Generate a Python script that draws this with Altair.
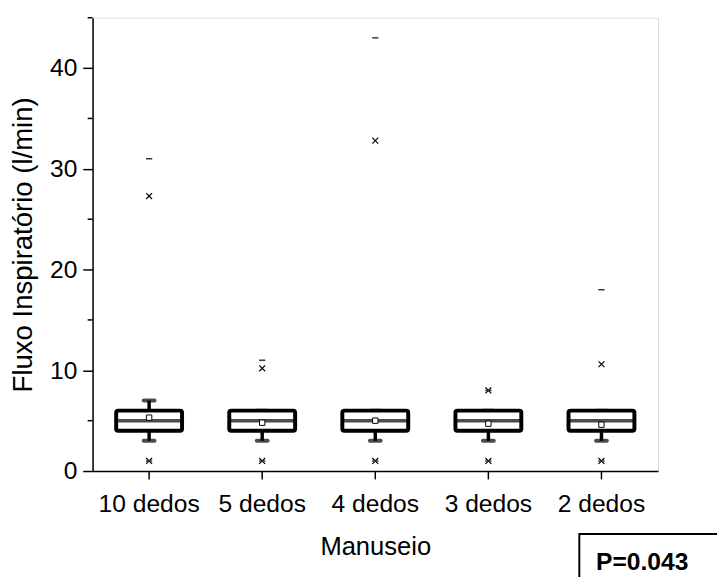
import altair as alt
import pandas as pd

categories = ["10 dedos", "5 dedos", "4 dedos", "3 dedos", "2 dedos"]
q1 = [4, 4, 4, 4, 4]
median = [5, 5, 5, 5, 5]
q3 = [6, 6, 6, 6, 6]
whisker_lo = [3, 3, 3, 3, 3]
whisker_hi = [7, 6, 6, 6, 6]
mean = [5.3, 4.8, 5.0, 4.7, 4.6]
p_low = [1, 1, 1, 1, 1]
p_high = [27.3, 10.2, 32.8, 8.0, 10.6]
minimum = [1, 1, 1, 1, 1]
maximum = [31, 11, 43, 8, 18]
major_ticks = [0, 10, 20, 30, 40]
minor_ticks = [5, 15, 25, 35, 45]
p_label = ["P=0.043"]

df = pd.DataFrame({
    "cat": categories, "q1": q1, "median": median, "q3": q3,
    "lo": whisker_lo, "hi": whisker_hi, "mean": mean,
})
pts = pd.DataFrame({"cat": categories * 2, "v": p_low + p_high})
ext = pd.DataFrame({"cat": categories * 2, "v": minimum + maximum})
minor_df = pd.DataFrame({"v": minor_ticks})
p_df = pd.DataFrame({"t": p_label})

FONT = "Liberation Sans"

xenc = alt.X("cat:N", sort=categories,
             scale=alt.Scale(paddingInner=0, paddingOuter=0),
             axis=alt.Axis(title="Manuseio", labelAngle=0, labelFontSize=25,
                           labelFont=FONT, labelColor="black", labelPadding=13,
                           tickSize=8, tickWidth=1.5, tickColor="black",
                           domainColor="black", domainWidth=1.5,
                           titleFontSize=26, titleFont=FONT, titleFontWeight="normal",
                           titleColor="black", titlePadding=18))
yscale = alt.Scale(domain=[0, 45], nice=False, zero=True)
yaxis = alt.Axis(title="Fluxo Inspiratório (l/min)", values=major_ticks,
                 labelFontSize=25, labelFont=FONT, labelColor="black", labelPadding=6,
                 tickSize=10, tickWidth=1.5, tickColor="black",
                 domainColor="black", domainWidth=1.5, grid=False,
                 titleFontSize=28, titleFont=FONT, titleFontWeight="normal",
                 titleColor="black", titlePadding=12)

base = alt.Chart(df)

whisk = base.mark_rule(color="black", strokeWidth=3.5).encode(
    x=xenc, y=alt.Y("lo:Q", scale=yscale, axis=yaxis), y2="hi:Q")
caps_lo = base.mark_tick(color="black", size=15, thickness=4, cornerRadius=2).encode(
    x=xenc, y=alt.Y("lo:Q", scale=yscale))
caps_hi = base.mark_tick(color="black", size=15, thickness=4, cornerRadius=2).encode(
    x=xenc, y=alt.Y("hi:Q", scale=yscale))
box = base.mark_bar(size=67, fill="white", stroke="black", strokeWidth=4,
                    cornerRadius=2).encode(
    x=xenc, y=alt.Y("q1:Q", scale=yscale), y2="q3:Q")
med = base.mark_tick(color="black", size=67, thickness=3.5).encode(
    x=xenc, y=alt.Y("median:Q", scale=yscale))
meanpt = base.mark_point(shape="square", size=30, filled=True, fill="white",
                         stroke="black", strokeWidth=1, opacity=1).encode(
    x=xenc, y=alt.Y("mean:Q", scale=yscale))
xs = alt.Chart(pts).mark_point(shape="M-1,-1L1,1M-1,1L1,-1", size=36, filled=False,
                               stroke="black", strokeWidth=1.2, opacity=1).encode(
    x=xenc, y=alt.Y("v:Q", scale=yscale))
dashes = alt.Chart(ext).mark_point(shape="M-1,0L1,0", size=40, filled=False,
                                   stroke="#333333", strokeWidth=1.5, opacity=1).encode(
    x=xenc, y=alt.Y("v:Q", scale=yscale))
minor = alt.Chart(minor_df).mark_rule(color="black", strokeWidth=1.5).encode(
    x=alt.value(-5), x2=alt.value(0), y=alt.Y("v:Q", scale=yscale))
pbox = alt.Chart(p_df).mark_rect(fill="white", stroke="black", strokeWidth=2).encode(
    x=alt.value(495), x2=alt.value(720), y=alt.value(525), y2=alt.value(640))
ptext = alt.Chart(p_df).mark_text(font=FONT, fontSize=25, fontWeight="bold",
                                  align="left", baseline="alphabetic",
                                  color="black").encode(
    x=alt.value(512), y=alt.value(562), text="t:N")

chart = alt.layer(whisk, caps_lo, caps_hi, box, med, meanpt, xs, dashes, minor,
                  pbox, ptext).properties(
    width=575, height=461,
    autosize=alt.AutoSizeParams(type="none"),
    padding={"left": 86, "top": 5, "right": 60, "bottom": 110},
).configure_view(stroke=None).configure(background="white")

chart.save("out.html", embed_options={"renderer": "svg", "actions": False})
